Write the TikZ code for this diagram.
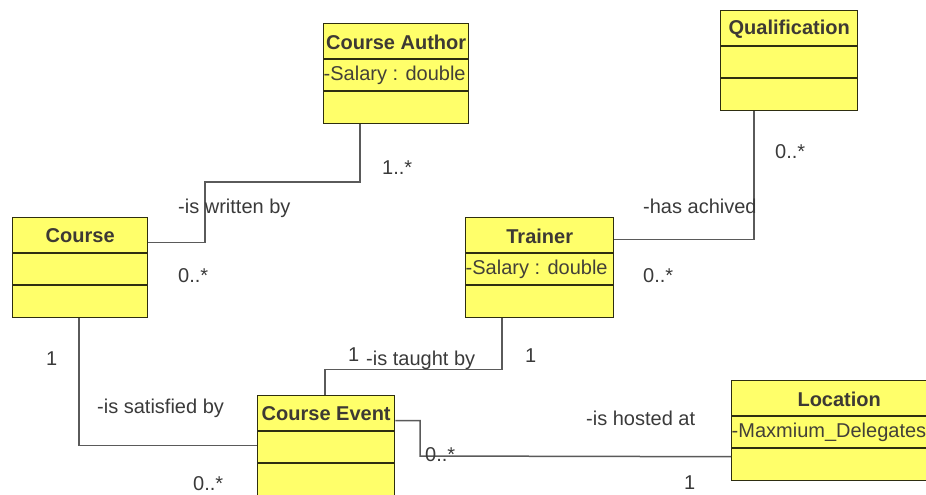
\documentclass[tikz,border=0pt]{standalone}
\usepackage{fontspec}
\setmainfont{Liberation Sans}
\usetikzlibrary{calc}

\definecolor{classfill}{HTML}{FFFF6A}
\definecolor{classline}{HTML}{2E2E10}
\definecolor{assocline}{HTML}{5A5A5A}
\definecolor{labeltext}{HTML}{3A3A3A}

\tikzset{
  classbox/.style={draw=classline, line width=1.4pt, fill=classfill,
    rectangle, minimum height=100pt, inner sep=0pt},
  classrule/.style={draw=classline, line width=1.4pt},
  classtitle/.style={font=\fontsize{20}{20}\selectfont\bfseries,
    text=black!88!yellow, inner sep=0pt},
  classattr/.style={font=\fontsize{20}{20}\selectfont,
    text=black!85!yellow, inner sep=0pt, anchor=west},
  assoc/.style={draw=assocline, line width=1.5pt},
  rolelabel/.style={font=\fontsize{20}{20}\selectfont, text=labeltext,
    inner sep=0pt, anchor=base west},
}

% name, left, top, width, title, attribute
\newcommand\umlclass[6]{%
  \node[classbox, minimum width=#4pt, anchor=north west] (#1) at (#2,#3) {};
  \draw[classrule] ([yshift=-36pt]#1.north west) -- ([yshift=-36pt]#1.north east);
  \draw[classrule] ([yshift=-68pt]#1.north west) -- ([yshift=-68pt]#1.north east);
  \node[classtitle] (#1-title) at ([yshift=-19pt]#1.north) {#5};
  \node[classattr] (#1-attr) at ([yshift=-52pt,xshift=0.5pt]#1.north west) {#6};
}

\begin{document}
\begin{tikzpicture}[x=1pt, y=-1pt]
  \useasboundingbox (0,0) rectangle (926,495);
  \begin{scope}
    \clip (0,0) rectangle (926,495);

    % classes
    \umlclass{author}{323}{23}{145}{Course Author}{-Salary : double}
    \umlclass{qual}{720}{10}{137}{Qualification}{}
    \umlclass{course}{12}{217}{135}{Course}{}
    \umlclass{trainer}{465}{217}{148}{Trainer}{-Salary : double}
    \umlclass{event}{257}{395}{137}{Course Event}{}
    \umlclass{loc}{731}{380}{215}{Location}{-Maxmium\_Delegates}

    % Course -- Course Author
    \draw[assoc] ([xshift=37pt]author.south west) |- (205,182)
      |- ([yshift=25pt]course.east);
    % Trainer -- Qualification
    \draw[assoc] ([xshift=34pt]qual.south west) |- ([yshift=28pt]trainer.east);
    % Course -- Course Event
    \draw[assoc] ([xshift=67pt]course.south west) |- (event.west);
    % Course Event -- Trainer
    \draw[assoc] ([xshift=37pt]trainer.south west) -- ++(0,51)
      -| ([xshift=68pt]event.north west);
    % Course Event -- Location
    \draw[assoc] ([yshift=25pt]event.east) -| (420,456)
      -- ([yshift=-26pt]loc.west);

    % role names and multiplicities
    \node[rolelabel] (m1) at (382,174) {1..*};
    \node[rolelabel] (r1) at (178,213) {-is written by};
    \node[rolelabel] (m2) at (178,282) {0..*};
    \node[rolelabel] (m3) at (775,158) {0..*};
    \node[rolelabel] (r2) at (643,213) {-has achived};
    \node[rolelabel] (m4) at (643,282) {0..*};
    \node[rolelabel] (m5) at (46,365) {1};
    \node[rolelabel] (r3) at (97,413) {-is satisfied by};
    \node[rolelabel] (m6) at (193,490) {0..*};
    \node[rolelabel] (m7) at (348,361) {1};
    \node[rolelabel] (r4) at (366,365) {-is taught by};
    \node[rolelabel] (m8) at (525,362) {1};
    \node[rolelabel] (r5) at (586,425) {-is hosted at};
    \node[rolelabel] (m9) at (425,461) {0..*};
    \node[rolelabel] (m10) at (684,489) {1};
  \end{scope}
\end{tikzpicture}
\end{document}
